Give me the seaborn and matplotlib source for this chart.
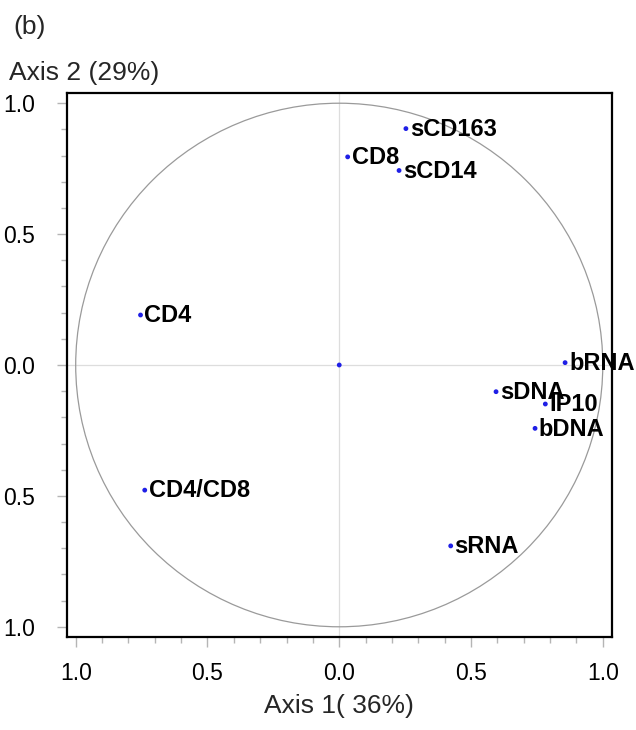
import matplotlib
matplotlib.use("Agg")
import matplotlib.pyplot as plt
from matplotlib.patches import Circle
from matplotlib.ticker import FixedLocator, MultipleLocator
import seaborn as sns
import pandas as pd

# ---- data ----
variables = ["sCD163", "CD8", "sCD14", "CD4", "bRNA", "sDNA", "IP10", "bDNA", "CD4/CD8", "sRNA"]
axis1 = [0.253, 0.032, 0.227, -0.754, 0.857, 0.595, 0.782, 0.743, -0.738, 0.423]
axis2 = [0.903, 0.795, 0.743, 0.191, 0.009, -0.102, -0.149, -0.242, -0.478, -0.691]
origin_x = [0.0]
origin_y = [0.0]
tick_values = [-1.0, -0.5, 0.0, 0.5, 1.0]
tick_labels = ["1.0", "0.5", "0.0", "0.5", "1.0"]
x_title = "Axis 1( 36%)"
y_title = "Axis 2 (29%)"
panel = "(b)"

df = pd.DataFrame({"variable": variables, "axis1": axis1, "axis2": axis2})
df_origin = pd.DataFrame({"axis1": origin_x, "axis2": origin_y})

sns.set_theme(style="white")
plt.rcParams["font.family"] = ["Liberation Sans", "DejaVu Sans"]
plt.rcParams["xtick.bottom"] = True
plt.rcParams["ytick.left"] = True

W, H = 636, 730
fig = plt.figure(figsize=(W / 100, H / 100), dpi=100)
fig.patch.set_facecolor("white")
ax = fig.add_axes([67 / W, 93 / H, 545 / W, 544 / H])
ax.set_facecolor("white")

ax.set_xlim(-1.033, 1.035)
ax.set_ylim(-1.039, 1.039)

# reference lines and unit circle
ax.axhline(0, color="#dddddd", lw=0.9, zorder=1)
ax.axvline(0, color="#dddddd", lw=0.9, zorder=1)
ax.add_patch(Circle((0, 0), 1.0, fill=False, edgecolor="#9a9a9a", lw=0.9, zorder=2))

# points
dot_color = "#1f1fe6"
sns.scatterplot(data=df, x="axis1", y="axis2", color=dot_color, s=12,
                edgecolor="none", legend=False, ax=ax, zorder=3)
sns.scatterplot(data=df_origin, x="axis1", y="axis2", color=dot_color, s=12,
                edgecolor="none", legend=False, ax=ax, zorder=3)

for name, x, y in zip(df["variable"], df["axis1"], df["axis2"]):
    ax.annotate(name, (x, y), xytext=(2.8, -0.6), textcoords="offset points",
                ha="left", va="center", fontsize=17, fontweight="bold",
                color="black", zorder=4)

# spines
for s in ax.spines.values():
    s.set_visible(True)
    s.set_color("black")
    s.set_linewidth(1.6)

# ticks
ax.xaxis.set_major_locator(FixedLocator(tick_values))
ax.yaxis.set_major_locator(FixedLocator(tick_values))
ax.set_xticklabels(tick_labels)
ax.set_yticklabels(tick_labels)
ax.xaxis.set_minor_locator(MultipleLocator(0.1))
ax.yaxis.set_minor_locator(MultipleLocator(0.1))
ax.tick_params(axis="both", which="both", bottom=True, left=True, top=False, right=False)
ax.tick_params(axis="both", which="major", direction="out", length=7, width=1.0,
               color="#b5b5b5", labelsize=16.5, labelcolor="black")
ax.tick_params(axis="both", which="minor", direction="out", length=4, width=1.0,
               color="#b5b5b5")
ax.tick_params(axis="x", which="major", pad=11)
ax.tick_params(axis="y", which="major", pad=16)
ax.set_xlabel("")
ax.set_ylabel("")

# titles
fig.text(339 / W, 1 - 706 / H, x_title, ha="center", va="center", fontsize=19)
fig.text(9 / W, 1 - 73 / H, y_title, ha="left", va="center", fontsize=19)
fig.text(13 / W, 1 - 27 / H, panel, ha="left", va="center", fontsize=19)

fig.savefig("out.png", dpi=100, facecolor="white")
